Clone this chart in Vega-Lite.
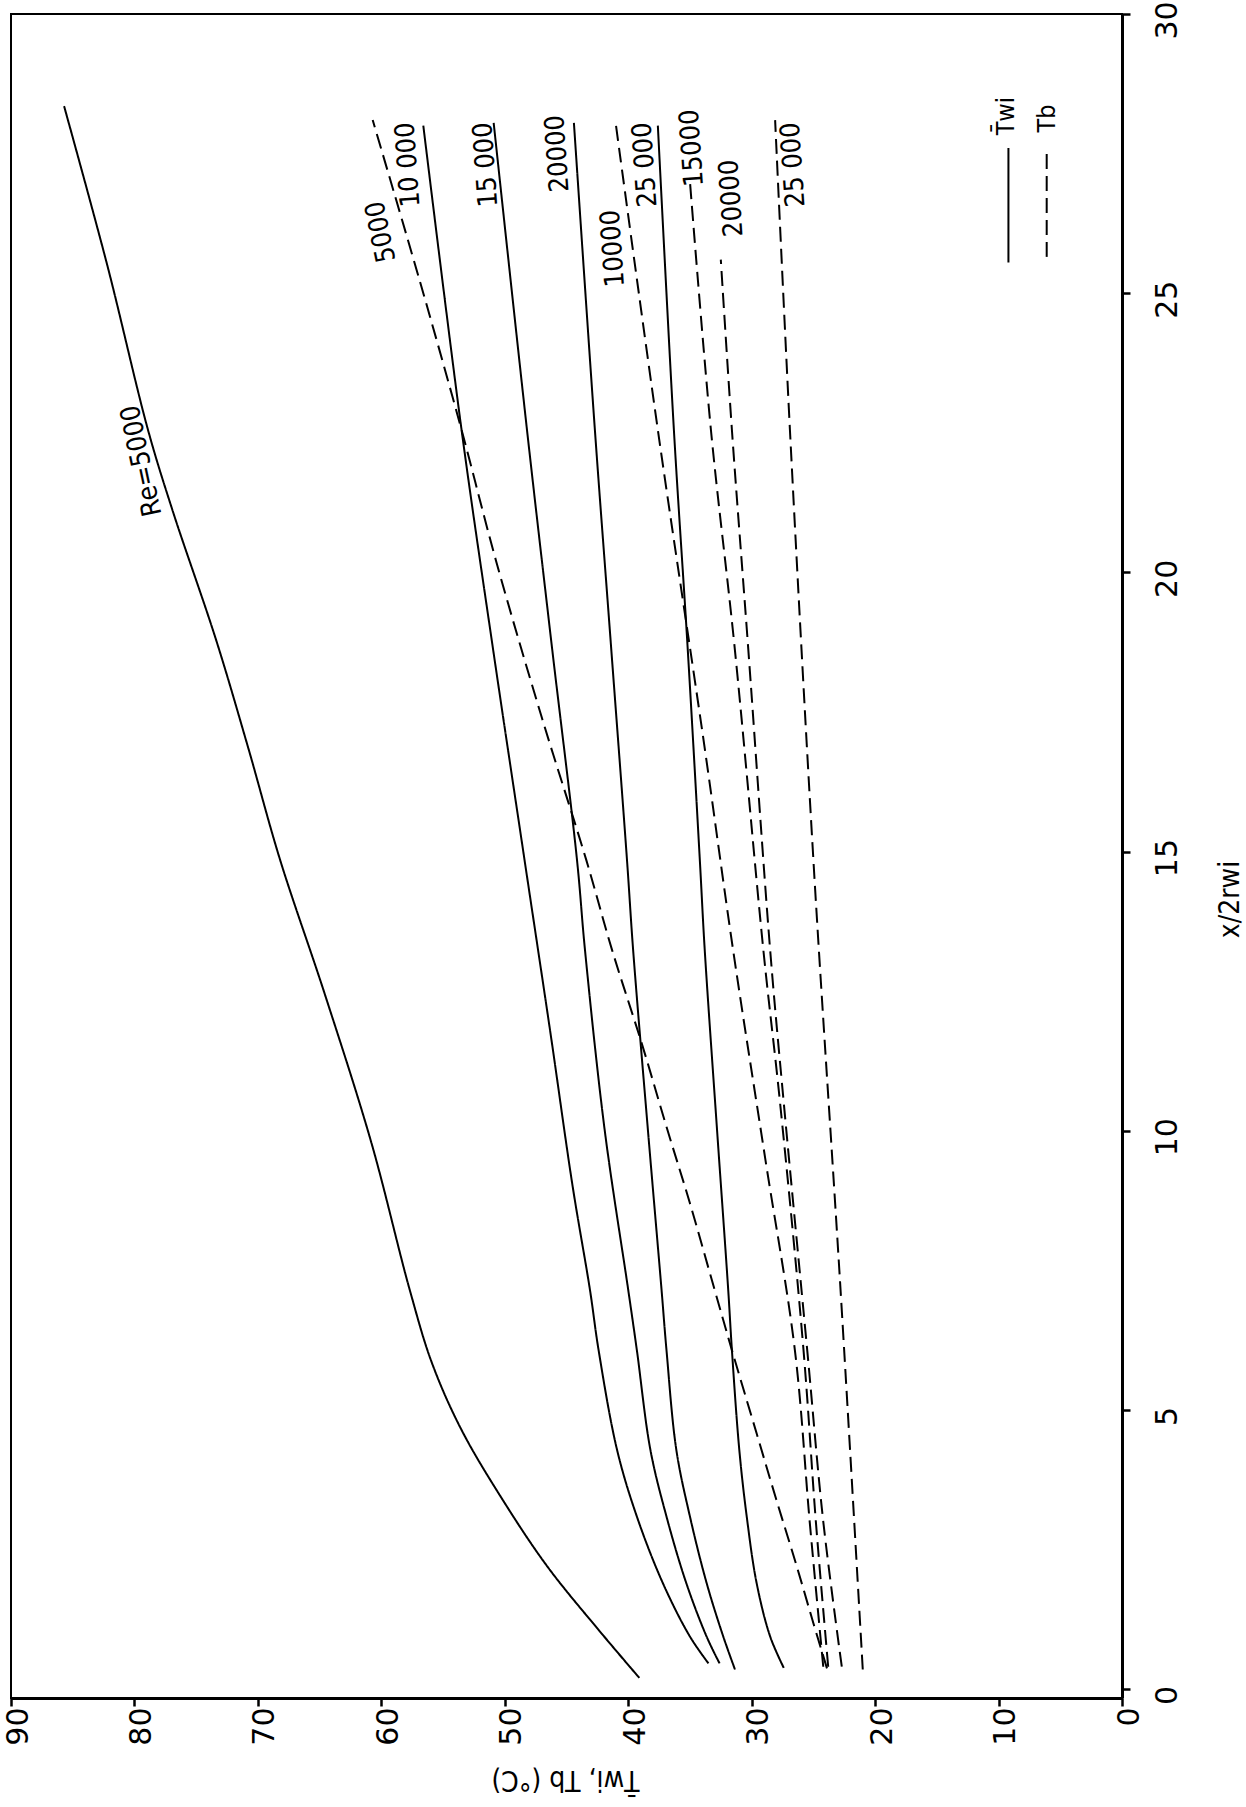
{
  "$schema": "https://vega.github.io/schema/vega-lite/v6.json",
  "width": 1111,
  "height": 1684,
  "autosize": {"type": "none"},
  "padding": {"left": 11, "top": 14, "right": 124, "bottom": 109},
  "background": "white",
  "config": {"view": {"stroke": "black", "strokeWidth": 2}},
  "datasets": {
    "curves": [
      {"c": "w5", "k": "Twi", "s": 0.2, "T": 39.1}, {"c": "w5", "k": "Twi", "s": 1.06, "T": 42.4}, {"c": "w5", "k": "Twi", "s": 2.18, "T": 46.5}, {"c": "w5", "k": "Twi", "s": 3.33, "T": 50.0}, {"c": "w5", "k": "Twi", "s": 4.64, "T": 53.5}, {"c": "w5", "k": "Twi", "s": 5.84, "T": 55.9}, {"c": "w5", "k": "Twi", "s": 7.15, "T": 57.7}, {"c": "w5", "k": "Twi", "s": 9.78, "T": 60.8}, {"c": "w5", "k": "Twi", "s": 12.46, "T": 64.6}, {"c": "w5", "k": "Twi", "s": 14.85, "T": 68.2}, {"c": "w5", "k": "Twi", "s": 16.87, "T": 70.8}, {"c": "w5", "k": "Twi", "s": 18.8, "T": 73.4}, {"c": "w5", "k": "Twi", "s": 21.1, "T": 76.9}, {"c": "w5", "k": "Twi", "s": 22.55, "T": 78.9}, {"c": "w5", "k": "Twi", "s": 25.5, "T": 82.2}, {"c": "w5", "k": "Twi", "s": 28.35, "T": 85.7},
      {"c": "w10", "k": "Twi", "s": 0.46, "T": 33.5}, {"c": "w10", "k": "Twi", "s": 0.94, "T": 35.0}, {"c": "w10", "k": "Twi", "s": 1.9, "T": 37.2}, {"c": "w10", "k": "Twi", "s": 3.09, "T": 39.3}, {"c": "w10", "k": "Twi", "s": 4.28, "T": 40.9}, {"c": "w10", "k": "Twi", "s": 6.07, "T": 42.4}, {"c": "w10", "k": "Twi", "s": 7.15, "T": 43.1}, {"c": "w10", "k": "Twi", "s": 9.0, "T": 44.5}, {"c": "w10", "k": "Twi", "s": 11.75, "T": 46.3}, {"c": "w10", "k": "Twi", "s": 14.85, "T": 48.4}, {"c": "w10", "k": "Twi", "s": 18.7, "T": 51.0}, {"c": "w10", "k": "Twi", "s": 22.55, "T": 53.5}, {"c": "w10", "k": "Twi", "s": 28.0, "T": 56.6},
      {"c": "w15", "k": "Twi", "s": 0.46, "T": 32.6}, {"c": "w15", "k": "Twi", "s": 0.94, "T": 33.65}, {"c": "w15", "k": "Twi", "s": 1.9, "T": 35.3}, {"c": "w15", "k": "Twi", "s": 3.09, "T": 36.9}, {"c": "w15", "k": "Twi", "s": 4.28, "T": 38.2}, {"c": "w15", "k": "Twi", "s": 6.07, "T": 39.3}, {"c": "w15", "k": "Twi", "s": 7.15, "T": 40.0}, {"c": "w15", "k": "Twi", "s": 10.0, "T": 41.9}, {"c": "w15", "k": "Twi", "s": 13.23, "T": 43.5}, {"c": "w15", "k": "Twi", "s": 14.85, "T": 44.15}, {"c": "w15", "k": "Twi", "s": 18.7, "T": 46.2}, {"c": "w15", "k": "Twi", "s": 22.55, "T": 48.2}, {"c": "w15", "k": "Twi", "s": 28.05, "T": 50.9},
      {"c": "w20", "k": "Twi", "s": 0.35, "T": 31.35}, {"c": "w20", "k": "Twi", "s": 0.94, "T": 32.3}, {"c": "w20", "k": "Twi", "s": 1.9, "T": 33.65}, {"c": "w20", "k": "Twi", "s": 3.09, "T": 35.0}, {"c": "w20", "k": "Twi", "s": 4.28, "T": 36.1}, {"c": "w20", "k": "Twi", "s": 6.07, "T": 36.9}, {"c": "w20", "k": "Twi", "s": 7.15, "T": 37.3}, {"c": "w20", "k": "Twi", "s": 10.0, "T": 38.4}, {"c": "w20", "k": "Twi", "s": 13.23, "T": 39.6}, {"c": "w20", "k": "Twi", "s": 14.85, "T": 40.1}, {"c": "w20", "k": "Twi", "s": 18.7, "T": 41.4}, {"c": "w20", "k": "Twi", "s": 22.55, "T": 42.7}, {"c": "w20", "k": "Twi", "s": 28.05, "T": 44.4},
      {"c": "w25", "k": "Twi", "s": 0.38, "T": 27.4}, {"c": "w25", "k": "Twi", "s": 0.94, "T": 28.5}, {"c": "w25", "k": "Twi", "s": 1.9, "T": 29.6}, {"c": "w25", "k": "Twi", "s": 3.09, "T": 30.4}, {"c": "w25", "k": "Twi", "s": 4.28, "T": 31.0}, {"c": "w25", "k": "Twi", "s": 6.07, "T": 31.6}, {"c": "w25", "k": "Twi", "s": 7.15, "T": 31.9}, {"c": "w25", "k": "Twi", "s": 10.0, "T": 32.8}, {"c": "w25", "k": "Twi", "s": 13.23, "T": 33.8}, {"c": "w25", "k": "Twi", "s": 14.85, "T": 34.2}, {"c": "w25", "k": "Twi", "s": 18.7, "T": 35.2}, {"c": "w25", "k": "Twi", "s": 22.55, "T": 36.3}, {"c": "w25", "k": "Twi", "s": 28.0, "T": 37.6},
      {"c": "b5", "k": "Tb", "s": 0.37, "T": 23.9}, {"c": "b5", "k": "Tb", "s": 1.18, "T": 25.0}, {"c": "b5", "k": "Tb", "s": 2.2, "T": 26.35}, {"c": "b5", "k": "Tb", "s": 3.39, "T": 28.0}, {"c": "b5", "k": "Tb", "s": 4.58, "T": 29.6}, {"c": "b5", "k": "Tb", "s": 6.07, "T": 31.6}, {"c": "b5", "k": "Tb", "s": 7.15, "T": 33.0}, {"c": "b5", "k": "Tb", "s": 8.7, "T": 35.0}, {"c": "b5", "k": "Tb", "s": 10.07, "T": 36.9}, {"c": "b5", "k": "Tb", "s": 11.56, "T": 38.9}, {"c": "b5", "k": "Tb", "s": 13.23, "T": 41.3}, {"c": "b5", "k": "Tb", "s": 14.85, "T": 43.4}, {"c": "b5", "k": "Tb", "s": 17.4, "T": 47.0}, {"c": "b5", "k": "Tb", "s": 20.2, "T": 50.7}, {"c": "b5", "k": "Tb", "s": 22.55, "T": 53.5}, {"c": "b5", "k": "Tb", "s": 25.0, "T": 56.6}, {"c": "b5", "k": "Tb", "s": 28.1, "T": 60.7},
      {"c": "b10", "k": "Tb", "s": 0.4, "T": 24.2}, {"c": "b10", "k": "Tb", "s": 3.0, "T": 25.3}, {"c": "b10", "k": "Tb", "s": 6.07, "T": 26.5}, {"c": "b10", "k": "Tb", "s": 9.5, "T": 28.9}, {"c": "b10", "k": "Tb", "s": 13.23, "T": 31.5}, {"c": "b10", "k": "Tb", "s": 17.0, "T": 33.9}, {"c": "b10", "k": "Tb", "s": 22.55, "T": 37.6}, {"c": "b10", "k": "Tb", "s": 28.1, "T": 41.05},
      {"c": "b15", "k": "Tb", "s": 0.4, "T": 23.8}, {"c": "b15", "k": "Tb", "s": 3.0, "T": 24.8}, {"c": "b15", "k": "Tb", "s": 6.07, "T": 25.8}, {"c": "b15", "k": "Tb", "s": 10.5, "T": 27.7}, {"c": "b15", "k": "Tb", "s": 13.23, "T": 29.05}, {"c": "b15", "k": "Tb", "s": 18.7, "T": 31.4}, {"c": "b15", "k": "Tb", "s": 22.55, "T": 33.3}, {"c": "b15", "k": "Tb", "s": 27.0, "T": 35.0},
      {"c": "b20", "k": "Tb", "s": 0.4, "T": 22.7}, {"c": "b20", "k": "Tb", "s": 3.0, "T": 24.2}, {"c": "b20", "k": "Tb", "s": 6.07, "T": 25.5}, {"c": "b20", "k": "Tb", "s": 10.5, "T": 27.4}, {"c": "b20", "k": "Tb", "s": 13.23, "T": 28.5}, {"c": "b20", "k": "Tb", "s": 18.7, "T": 30.3}, {"c": "b20", "k": "Tb", "s": 22.55, "T": 31.6}, {"c": "b20", "k": "Tb", "s": 25.6, "T": 32.5},
      {"c": "b25", "k": "Tb", "s": 0.35, "T": 21.0}, {"c": "b25", "k": "Tb", "s": 7.15, "T": 22.8}, {"c": "b25", "k": "Tb", "s": 14.85, "T": 25.0}, {"c": "b25", "k": "Tb", "s": 22.55, "T": 26.9}, {"c": "b25", "k": "Tb", "s": 28.1, "T": 28.1}
    ],
    "labels": [
      {"label": "Re=5000", "T": 79.4, "s": 22.0},
      {"label": "5000", "T": 60.0, "s": 26.1},
      {"label": "10 000", "T": 57.8, "s": 27.3},
      {"label": "15 000", "T": 51.5, "s": 27.3},
      {"label": "20000", "T": 45.7, "s": 27.5},
      {"label": "10000", "T": 41.2, "s": 25.8},
      {"label": "25 000", "T": 38.6, "s": 27.3},
      {"label": "15000", "T": 34.8, "s": 27.6},
      {"label": "20000 ", "T": 31.6, "s": 26.7},
      {"label": "25 000 ", "T": 26.6, "s": 27.3}
    ],
    "legendLines": [
      {"k": "Twi", "T": 9.2, "s": 25.55, "s2": 27.6},
      {"k": "Tb", "T": 6.1, "s": 25.65, "s2": 27.6}
    ],
    "legendText": [
      {"label": "T̄wi", "T": 9.4, "s": 28.17},
      {"label": "Tb", "T": 6.1, "s": 28.13}
    ]
  },
  "encoding": {
    "x": {
      "field": "T", "type": "quantitative",
      "scale": {"domain": [0, 90], "reverse": true, "nice": false, "zero": false},
      "axis": {
        "orient": "bottom", "values": [0, 10, 20, 30, 40, 50, 60, 70, 80, 90],
        "grid": false, "labelAngle": 270, "labelAlign": "right", "labelBaseline": "middle",
        "labelFont": "DejaVu Sans", "labelFontSize": 30, "labelColor": "black", "labelPadding": 1, "labelOffset": 7,
        "labelOverlap": false, "labelFlush": false, "labelBound": false,
        "tickSize": 8, "tickWidth": 2.5, "tickColor": "black",
        "domainColor": "black", "domainWidth": 3,
        "title": "T̄wi, Tb (°C)", "titleAngle": 180, "titleX": 554, "titleY": 80,
        "titleAlign": "center", "titleBaseline": "middle",
        "titleFont": "'DejaVu Sans Condensed', 'Liberation Sans Narrow', 'DejaVu Sans'", "titleFontSize": 28, "titleFontWeight": "normal", "titleColor": "black"
      }
    },
    "y": {
      "field": "s", "type": "quantitative",
      "scale": {"domain": [-0.16, 30], "nice": false, "zero": false},
      "axis": {
        "orient": "right", "values": [0, 5, 10, 15, 20, 25, 30],
        "grid": false, "labelAngle": 270, "labelAlign": "center", "labelBaseline": "top",
        "labelFont": "DejaVu Sans", "labelFontSize": 30, "labelColor": "black", "labelPadding": 22, "labelOffset": 6,
        "labelOverlap": false, "labelFlush": false, "labelBound": false,
        "tickSize": 8, "tickWidth": 2.5, "tickColor": "black",
        "domainColor": "black", "domainWidth": 3,
        "title": "x/2rwi", "titleAngle": 270, "titleX": 108, "titleY": 885,
        "titleAlign": "center", "titleBaseline": "middle",
        "titleFont": "'DejaVu Sans Condensed', 'Liberation Sans Narrow', 'DejaVu Sans'", "titleFontSize": 28, "titleFontWeight": "normal", "titleColor": "black"
      }
    }
  },
  "layer": [
    {
      "data": {"name": "curves"},
      "mark": {"type": "line", "color": "black", "strokeWidth": 2, "interpolate": "catmull-rom"},
      "encoding": {
        "detail": {"field": "c"},
        "order": {"field": "s", "type": "quantitative"},
        "strokeDash": {"field": "k", "type": "nominal", "scale": {"domain": ["Twi", "Tb"], "range": [[1, 0], [15, 7]]}, "legend": null}
      }
    },
    {
      "data": {"name": "legendLines"},
      "mark": {"type": "rule", "color": "black", "strokeWidth": 2},
      "encoding": {
        "y2": {"field": "s2"},
        "strokeDash": {"field": "k", "type": "nominal", "scale": {"domain": ["Twi", "Tb"], "range": [[1, 0], [15, 7]]}, "legend": null}
      }
    },
    {
      "data": {"name": "labels"},
      "transform": [{"filter": "datum.label == 'Re=5000' || datum.label == '5000'"}],
      "mark": {"type": "text", "angle": 258, "align": "center", "baseline": "middle", "fontSize": 27, "color": "black", "font": "'DejaVu Sans Condensed', 'Liberation Sans Narrow', 'DejaVu Sans'"},
      "encoding": {"text": {"field": "label"}}
    },
    {
      "data": {"name": "labels"},
      "transform": [{"filter": "datum.label != 'Re=5000' && datum.label != '5000'"}],
      "mark": {"type": "text", "angle": 266, "align": "center", "baseline": "middle", "fontSize": 27, "color": "black", "font": "'DejaVu Sans Condensed', 'Liberation Sans Narrow', 'DejaVu Sans'"},
      "encoding": {"text": {"field": "label"}}
    },
    {
      "data": {"name": "legendText"},
      "mark": {"type": "text", "angle": 270, "align": "center", "baseline": "middle", "fontSize": 25, "color": "black", "font": "'DejaVu Sans Condensed', 'Liberation Sans Narrow', 'DejaVu Sans'"},
      "encoding": {"text": {"field": "label"}}
    }
  ]
}
